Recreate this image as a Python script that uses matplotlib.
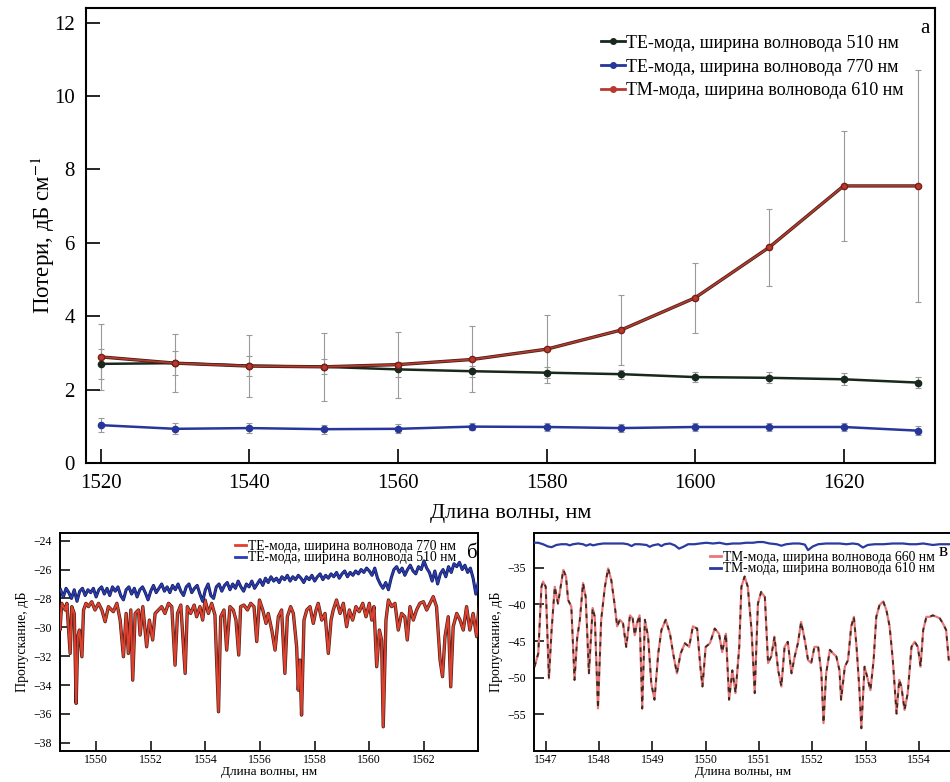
import matplotlib
matplotlib.use("Agg")
import matplotlib.pyplot as plt
import numpy as np
from matplotlib.lines import Line2D

plt.rcParams['font.family'] = ['Liberation Serif', 'DejaVu Serif']
plt.rcParams['mathtext.fontset'] = 'stix'

# ---- panel a: losses vs wavelength ----
wl_a = [1520, 1530, 1540, 1550, 1560, 1570, 1580, 1590, 1600, 1610, 1620, 1630]
te510 = [2.70, 2.72, 2.65, 2.62, 2.55, 2.50, 2.46, 2.42, 2.34, 2.32, 2.28, 2.19]
te510_err = [0.40, 0.32, 0.27, 0.20, 0.20, 0.15, 0.15, 0.12, 0.13, 0.15, 0.16, 0.15]
te770 = [1.03, 0.93, 0.95, 0.92, 0.93, 0.99, 0.98, 0.95, 0.98, 0.98, 0.98, 0.88]
te770_err = [0.20, 0.15, 0.13, 0.12, 0.12, 0.10, 0.10, 0.10, 0.10, 0.10, 0.10, 0.12]
tm610 = [2.89, 2.72, 2.64, 2.62, 2.68, 2.82, 3.10, 3.62, 4.50, 5.88, 7.55, 7.55]
tm610_err = [0.90, 0.80, 0.85, 0.93, 0.90, 0.90, 0.92, 0.96, 0.95, 1.05, 1.50, 3.17]

# ---- panel b: TE spectra ----
wl_b770 = [1548.62, 1548.68, 1548.74, 1548.87, 1548.93, 1549.05, 1549.11, 1549.20, 1549.27, 1549.33,
           1549.39, 1549.48, 1549.54, 1549.63, 1549.72, 1549.84, 1549.96, 1550.09, 1550.21, 1550.33,
           1550.45, 1550.63, 1550.76, 1550.88, 1551.00, 1551.10, 1551.18, 1551.27, 1551.34, 1551.43,
           1551.55, 1551.61, 1551.71, 1551.85, 1551.95, 1552.07, 1552.16, 1552.28, 1552.40, 1552.52,
           1552.65, 1552.77, 1552.89, 1552.98, 1553.10, 1553.26, 1553.34, 1553.46, 1553.59, 1553.68,
           1553.80, 1553.90, 1553.99, 1554.11, 1554.23, 1554.35, 1554.48, 1554.56, 1554.68, 1554.78,
           1554.90, 1555.02, 1555.12, 1555.22, 1555.29, 1555.41, 1555.54, 1555.66, 1555.78, 1555.88,
           1555.98, 1556.10, 1556.22, 1556.30, 1556.43, 1556.55, 1556.67, 1556.79, 1556.91, 1557.00,
           1557.12, 1557.22, 1557.34, 1557.40, 1557.46, 1557.52, 1557.61, 1557.71, 1557.83, 1557.95,
           1558.05, 1558.13, 1558.26, 1558.38, 1558.50, 1558.60, 1558.68, 1558.80, 1558.93, 1559.05,
           1559.17, 1559.27, 1559.39, 1559.51, 1559.63, 1559.76, 1559.88, 1560.00, 1560.09, 1560.17,
           1560.27, 1560.37, 1560.45, 1560.51, 1560.61, 1560.70, 1560.82, 1560.94, 1561.06, 1561.18,
           1561.30, 1561.39, 1561.49, 1561.61, 1561.73, 1561.85, 1561.98, 1562.10, 1562.22, 1562.34,
           1562.46, 1562.59, 1562.68, 1562.77, 1562.89, 1562.98, 1563.07, 1563.20, 1563.32, 1563.44,
           1563.56, 1563.68, 1563.80, 1563.93, 1564.01]
te770_b = [-29.50, -30.19, -28.34, -28.80, -28.34, -31.81, -28.57, -29.04, -35.27, -30.65,
           -30.19, -32.04, -28.80, -28.34, -28.57, -28.23, -28.80, -28.34, -28.80, -29.61,
           -28.57, -28.92, -28.34, -29.50, -32.04, -29.04, -31.81, -28.80, -33.66, -29.04,
           -28.80, -30.54, -28.57, -31.35, -29.50, -30.88, -29.04, -28.80, -28.57, -29.04,
           -28.34, -28.57, -32.62, -29.04, -28.46, -33.19, -28.57, -29.04, -28.46, -29.27,
           -28.57, -29.50, -28.11, -29.04, -28.34, -29.15, -35.85, -29.27, -28.80, -31.58,
           -28.57, -28.80, -29.50, -31.92, -28.57, -28.46, -28.80, -28.34, -28.57, -30.99,
           -28.11, -28.80, -29.73, -29.04, -30.19, -31.58, -29.27, -28.80, -33.19, -29.27,
           -28.57, -29.04, -31.35, -34.35, -32.27, -36.08, -29.50, -28.80, -28.57, -29.73,
           -28.80, -28.34, -29.50, -29.04, -31.81, -29.50, -28.80, -28.11, -29.04, -28.34,
           -29.96, -28.80, -29.50, -28.57, -28.92, -28.34, -29.27, -28.34, -29.50, -28.57,
           -32.73, -30.19, -30.88, -36.89, -29.50, -28.11, -28.57, -28.34, -30.19, -29.04,
           -29.27, -30.88, -28.57, -29.50, -28.80, -28.34, -28.23, -28.80, -28.34, -27.88,
           -28.57, -32.27, -33.42, -30.65, -29.27, -34.12, -29.96, -29.04, -29.50, -30.19,
           -28.57, -30.19, -29.04, -30.65, -28.57]
# TE 510 nm read every 0.1 nm starting at 1548.7 nm
te510_b = [-27.4, -27.9, -27.3, -27.6, -28.0, -27.4, -28.2, -27.5, -27.3, -27.8,
           -27.4, -27.6, -27.3, -27.9, -27.4, -27.2, -27.7, -27.3, -27.8, -27.2,
           -27.5, -27.2, -27.8, -28.1, -27.4, -27.2, -27.7, -27.3, -27.9, -27.4,
           -27.2, -27.6, -28.1, -27.5, -27.1, -27.6, -27.3, -27.0, -27.5, -27.2,
           -27.6, -27.1, -27.4, -27.0, -27.5, -27.8, -27.2, -27.0, -27.6, -27.3,
           -27.1, -27.7, -28.2, -27.4, -27.0, -27.8, -28.0, -27.2, -27.0, -27.5,
           -27.1, -26.9, -27.4, -27.0, -27.3, -26.8, -27.2, -27.5, -27.0, -27.2,
           -26.8, -27.3, -27.0, -26.7, -27.1, -26.6, -26.9, -26.5, -26.8, -26.6,
           -26.9, -26.5, -26.7, -26.4, -26.8, -26.5, -26.7, -26.4, -26.6, -26.9,
           -26.5, -26.7, -26.4, -26.8, -26.5, -26.3, -26.7, -26.4, -26.6, -26.3,
           -26.5, -26.2, -26.6, -26.3, -26.1, -26.5, -26.2, -26.4, -26.1, -26.3,
           -26.0, -26.2, -25.9, -26.1, -26.4, -25.9, -26.6, -27.0, -27.3, -26.9,
           -27.4, -26.6, -26.0, -25.8, -26.2, -25.9, -26.4, -26.0, -25.7, -26.1,
           -26.3, -25.8, -26.0, -25.4, -25.9, -26.2, -26.8, -26.1, -27.0, -26.3,
           -26.0, -26.5, -25.8, -26.2, -25.6, -25.8, -25.5, -26.0, -25.7, -26.2,
           -25.9, -26.6, -27.7, -26.8]
wl_b510 = 1548.7 + 0.1 * np.arange(len(te510_b))

# ---- panel v: TM spectra ----
wl_v660 = [1546.79, 1546.86, 1546.92, 1546.95, 1547.00, 1547.06, 1547.11, 1547.17, 1547.23, 1547.28,
           1547.33, 1547.38, 1547.42, 1547.48, 1547.54, 1547.59, 1547.64, 1547.70, 1547.75, 1547.81,
           1547.88, 1547.92, 1547.98, 1548.04, 1548.11, 1548.17, 1548.23, 1548.29, 1548.34, 1548.39,
           1548.45, 1548.51, 1548.58, 1548.63, 1548.67, 1548.71, 1548.76, 1548.81, 1548.86, 1548.92,
           1548.98, 1549.04, 1549.11, 1549.17, 1549.25, 1549.33, 1549.39, 1549.46, 1549.53, 1549.61,
           1549.69, 1549.76, 1549.84, 1549.90, 1549.94, 1550.00, 1550.08, 1550.17, 1550.25, 1550.31,
           1550.38, 1550.44, 1550.50, 1550.56, 1550.63, 1550.67, 1550.73, 1550.79, 1550.86, 1550.92,
           1550.98, 1551.04, 1551.11, 1551.17, 1551.23, 1551.29, 1551.36, 1551.42, 1551.48, 1551.54,
           1551.61, 1551.67, 1551.73, 1551.79, 1551.86, 1551.92, 1551.98, 1552.04, 1552.11, 1552.17,
           1552.21, 1552.26, 1552.33, 1552.39, 1552.45, 1552.51, 1552.54, 1552.61, 1552.67, 1552.73,
           1552.78, 1552.83, 1552.88, 1552.92, 1552.98, 1553.03, 1553.09, 1553.15, 1553.20, 1553.26,
           1553.33, 1553.39, 1553.45, 1553.51, 1553.58, 1553.63, 1553.67, 1553.73, 1553.79, 1553.86,
           1553.92, 1553.98, 1554.03, 1554.08, 1554.14, 1554.20, 1554.26, 1554.33, 1554.39, 1554.45,
           1554.51, 1554.56]
tm660_v = [-48.5, -46.7, -37.6, -36.9, -37.6, -50.1, -43.5, -37.6, -39.9, -37.6,
           -35.3, -36.2, -39.4, -40.3, -50.3, -44.6, -42.1, -37.1, -39.0, -49.4,
           -40.5, -41.7, -54.2, -42.1, -37.6, -35.1, -36.7, -39.9, -43.0, -42.1,
           -42.6, -45.8, -41.5, -41.9, -44.2, -42.6, -41.5, -54.2, -42.1, -44.4,
           -50.8, -53.0, -46.7, -43.5, -42.1, -44.0, -46.7, -49.4, -46.7, -45.3,
           -45.8, -43.0, -43.3, -48.5, -51.2, -45.8, -45.3, -43.3, -44.0, -46.5,
           -44.0, -53.0, -49.0, -52.1, -45.8, -37.6, -36.2, -37.6, -43.5, -52.1,
           -39.9, -38.3, -39.0, -48.0, -47.1, -44.4, -49.0, -51.2, -45.8, -45.1,
           -49.4, -47.1, -45.3, -42.4, -44.9, -47.6, -48.0, -45.8, -45.8, -49.4,
           -56.2, -49.4, -46.2, -46.7, -47.1, -49.0, -53.0, -48.5, -47.6, -43.0,
           -41.7, -45.8, -51.2, -56.9, -48.5, -49.9, -51.7, -47.6, -41.7, -40.1,
           -39.6, -40.8, -43.0, -47.6, -54.9, -50.3, -51.2, -54.4, -52.1, -45.8,
           -45.1, -45.8, -48.5, -43.5, -41.7, -41.7, -41.5, -41.7, -41.9, -42.6,
           -43.5, -47.6]
wl_v610 = [1546.76, 1546.86, 1546.95, 1547.04, 1547.11, 1547.20, 1547.29, 1547.39, 1547.45, 1547.51,
           1547.61, 1547.70, 1547.76, 1547.83, 1547.89, 1547.98, 1548.08, 1548.20, 1548.33, 1548.45,
           1548.54, 1548.61, 1548.67, 1548.76, 1548.89, 1548.95, 1549.01, 1549.11, 1549.17, 1549.23,
           1549.33, 1549.42, 1549.50, 1549.58, 1549.67, 1549.79, 1549.89, 1550.01, 1550.14, 1550.26,
           1550.39, 1550.51, 1550.64, 1550.76, 1550.89, 1550.98, 1551.08, 1551.20, 1551.33, 1551.42,
           1551.51, 1551.64, 1551.76, 1551.86, 1551.92, 1552.01, 1552.11, 1552.26, 1552.39, 1552.51,
           1552.64, 1552.76, 1552.86, 1552.95, 1553.04, 1553.17, 1553.33, 1553.51, 1553.70, 1553.83,
           1553.95, 1554.08, 1554.17, 1554.26, 1554.39, 1554.51, 1554.58]
tm610_v = [-31.6, -31.6, -31.8, -32.1, -32.2, -31.9, -31.8, -31.8, -31.95, -31.8,
           -31.7, -31.8, -32.0, -31.8, -31.95, -31.8, -31.7, -31.7, -31.7, -31.7,
           -31.8, -32.05, -31.8, -31.8, -31.9, -32.15, -31.95, -31.8, -32.05, -31.8,
           -31.7, -31.95, -32.4, -32.15, -31.8, -31.8, -31.7, -31.6, -31.7, -31.6,
           -31.8, -31.7, -31.7, -31.6, -31.6, -31.5, -31.5, -31.7, -31.8, -32.0,
           -31.8, -31.7, -31.7, -31.85, -32.6, -32.1, -31.8, -31.7, -31.7, -31.7,
           -31.8, -31.7, -31.8, -32.25, -31.9, -31.8, -31.8, -31.7, -31.7, -31.8,
           -31.8, -31.7, -31.8, -31.9, -31.8, -31.8, -31.8]

c_black = '#18281c'
c_blue = '#26369a'
c_red = '#b83a2e'

fig = plt.figure(figsize=(9.5, 7.82), dpi=100)

# ---------- main panel ----------
ax = fig.add_axes([0.0905, 0.408, 0.8937, 0.5818])
for y, e in [(te510, te510_err), (te770, te770_err), (tm610, tm610_err)]:
    ax.errorbar(wl_a, y, yerr=e, fmt='none', ecolor='#9a9a9a', elinewidth=0.8, capsize=2, capthick=0.8, zorder=1)
for y, c in [(te510, c_black), (te770, c_blue)]:
    ax.plot(wl_a, y, color=c, lw=1.8, marker='o', ms=4.5, zorder=3)
ax.plot(wl_a, tm610, color='#4a2018', lw=2.4, zorder=3)
ax.plot(wl_a, tm610, color=c_red, lw=1.2, marker='o', ms=4.5, mec='#7a1e16', zorder=4)

ax.set_xlim(1518, 1632.3)
ax.set_ylim(0, 12.4)
ax.set_xticks([1520, 1540, 1560, 1580, 1600, 1620])
ax.set_yticks([0, 2, 4, 6, 8, 10, 12])
ax.tick_params(direction='in', length=10, width=1.2, labelsize=15, pad=8, top=False, right=False)
for s in ax.spines.values():
    s.set_linewidth(1.5)
ax.set_xlabel('Длина волны, нм', fontsize=16, labelpad=8)
ax.set_ylabel('Потери, дБ см$^{-1}$', fontsize=16.5, labelpad=-2)
handles = [Line2D([], [], color=c_black, lw=2, marker='o', ms=4),
           Line2D([], [], color=c_blue, lw=2, marker='o', ms=4),
           Line2D([], [], color=c_red, lw=2, marker='o', ms=4)]
labels = ['ТЕ-мода, ширина волновода 510 нм', 'ТЕ-мода, ширина волновода 770 нм',
          'ТМ-мода, ширина волновода 610 нм']
ax.legend(handles, labels, loc='upper right', bbox_to_anchor=(0.972, 0.957), frameon=False,
          fontsize=13, handlelength=1.3, handletextpad=0.1, labelspacing=0.38, borderaxespad=0)
ax.text(0.994, 0.975, 'а', transform=ax.transAxes, ha='right', va='top', fontsize=15)

# ---------- panel b ----------
axb = fig.add_axes([0.0632, 0.0396, 0.44, 0.2788])
axb.plot(wl_b770, te770_b, color='#4a2018', lw=2.4, zorder=2)
axb.plot(wl_b770, te770_b, color='#e0402e', lw=1.4, zorder=3)
axb.plot(wl_b510, te510_b, color='#101850', lw=2.2, zorder=4)
axb.plot(wl_b510, te510_b, color='#2a3cb0', lw=1.2, zorder=5)
axb.set_xlim(1548.68, 1563.98)
axb.set_ylim(-38.57, -23.47)
axb.set_xticks([1550, 1552, 1554, 1556, 1558, 1560, 1562])
axb.set_yticks([-24, -26, -28, -30, -32, -34, -36, -38])
axb.set_yticklabels(['\u221224', '\u221226', '\u221228', '\u221230', '\u221232', '\u221234', '\u221236', '\u221238'])
axb.tick_params(direction='in', length=7, width=1.1, labelsize=8.5, top=False, right=False)
axb.tick_params(axis='y', pad=6)
axb.tick_params(axis='x', pad=2)
for s in axb.spines.values():
    s.set_linewidth(1.4)
axb.set_xlabel('Длина волны, нм', fontsize=9.5, labelpad=0)
axb.set_ylabel('Пропускание, дБ', fontsize=10, labelpad=3)
hb = [Line2D([], [], color='#e0402e', lw=2), Line2D([], [], color='#2a3cb0', lw=2)]
axb.legend(hb, ['ТЕ-мода, ширина волновода 770 нм', 'ТЕ-мода, ширина волновода 510 нм'],
           loc='upper right', bbox_to_anchor=(0.965, 1.0), frameon=False, fontsize=9.8,
           handlelength=0.8, handletextpad=0.15, labelspacing=-0.1, borderaxespad=0.1)
axb.text(0.998, 0.95, 'б', transform=axb.transAxes, ha='right', va='top', fontsize=15)

# ---------- panel v ----------
axv = fig.add_axes([0.5621, 0.0396, 0.44, 0.2788])
axv.plot(wl_v660, tm660_v, color='#e8787a', lw=1.6, zorder=2)
axv.plot(wl_v660, tm660_v, color='#3a2a20', lw=1.3, dashes=(2.5, 3), zorder=3)
axv.plot(wl_v610, tm610_v, color='#2a3aa0', lw=1.6, zorder=4)
axv.set_xlim(1546.78, 1554.62)
axv.set_ylim(-60, -30.27)
axv.set_xticks([1547, 1548, 1549, 1550, 1551, 1552, 1553, 1554])
axv.set_yticks([-35, -40, -45, -50, -55])
axv.set_yticklabels(['\u221235', '\u221240', '\u221245', '\u221250', '\u221255'])
axv.tick_params(direction='in', length=7, width=1.1, labelsize=8.5, top=False, right=False)
axv.tick_params(axis='y', pad=6)
axv.tick_params(axis='x', pad=2)
for s in axv.spines.values():
    s.set_linewidth(1.4)
axv.set_xlabel('Длина волны, нм', fontsize=9.5, labelpad=0)
axv.set_ylabel('Пропускание, дБ', fontsize=10, labelpad=3)
hv = [Line2D([], [], color='#e8787a', lw=2), Line2D([], [], color='#2a3aa0', lw=2)]
axv.legend(hv, ['ТМ-мода, ширина волновода 660 нм', 'ТМ-мода, ширина волновода 610 нм'],
           loc='upper right', bbox_to_anchor=(0.975, 0.95), frameon=False, fontsize=9.8,
           handlelength=0.8, handletextpad=0.15, labelspacing=-0.1, borderaxespad=0.1)
fig.text(0.988, 0.305, 'в', ha='left', va='top', fontsize=14)

fig.savefig('out.png', dpi=100)
